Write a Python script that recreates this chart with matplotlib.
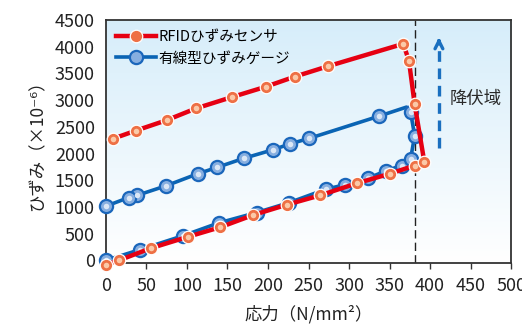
import numpy as np
import matplotlib
matplotlib.use("Agg")
import matplotlib.pyplot as plt

plt.rcParams['font.family'] = ['Noto Sans CJK JP', 'DejaVu Sans']

# RFID strain sensor (load up, yield, unload)
rfid_x = [0, 16, 56, 101, 141, 182, 224, 264, 310, 350, 381, 393, 381, 374, 367, 274, 233, 197, 156, 111, 75, 37, 9]
rfid_y = [-80, 0, 230, 440, 620, 850, 1045, 1215, 1445, 1620, 1775, 1840, 2925, 3735, 4055, 3635, 3440, 3250, 3060, 2845, 2625, 2430, 2280]

# wired strain gauge
gauge_x = [0, 42, 95, 139, 186, 226, 272, 295, 324, 346, 365, 376, 381, 376, 371, 337, 251, 227, 206, 170, 137, 113, 74, 38, 28, 0]
gauge_y = [0, 200, 460, 700, 895, 1080, 1335, 1415, 1540, 1680, 1775, 1895, 2335, 2775, 2870, 2700, 2285, 2180, 2070, 1910, 1740, 1620, 1395, 1215, 1175, 1015]
gauge_marks = [i for i in range(len(gauge_x)) if i != 14]

yield_x = 381
xticks = list(range(0, 501, 50))
yticks = list(range(0, 4501, 500))

fig = plt.figure(figsize=(5.22, 3.29), dpi=100)
ax = fig.add_axes([0.203, 0.2006, 0.776, 0.7384])

# light blue gradient background
top = np.array([0.84, 0.93, 0.98])
bot = np.array([1.0, 1.0, 1.0])
t = np.linspace(0, 1, 200).reshape(-1, 1, 1)
grad = top * (1 - t) + bot * t
ax.imshow(grad, extent=[0, 500, -50, 4500], aspect='auto', zorder=0, interpolation='bilinear')

red_line = '#e60012'
red_mark = '#ee7045'
blue_line = '#0a64b4'
blue_mark = '#86aee0'

ax.plot(gauge_x, gauge_y, color=blue_line, lw=2.6, zorder=3, clip_on=False,
        marker='o', markevery=gauge_marks, ms=9.5, mfc=blue_mark, mec='#1a66bb', mew=1.6,
        label='有線型ひずみゲージ')
ax.plot([gauge_x[i] for i in gauge_marks], [gauge_y[i] for i in gauge_marks], 'o', ms=4,
        color='#dbe7f6', mew=0, zorder=3.5, clip_on=False)

ax.plot(rfid_x, rfid_y, color=red_line, lw=3.2, zorder=4, clip_on=False,
        marker='o', ms=9, mfc=red_mark, mec='white', mew=0.9, label='RFIDひずみセンサ')
ax.plot(rfid_x, rfid_y, 'o', ms=4, color='#fbc9a8', mew=0, zorder=4.5, clip_on=False)

ax.axvline(yield_x, color='#222222', lw=1, dashes=(6, 3), zorder=2)

# dashed arrow for yield region
ax.plot([411, 411], [2100, 4050], color='#1a6fbf', lw=2.4, dashes=(3.2, 2.0), zorder=2)
ax.annotate('', xy=(411, 4230), xytext=(411, 4000),
            arrowprops=dict(arrowstyle='->', color='#1a6fbf', lw=2.4, mutation_scale=14))
ax.text(456, 3030, '降伏域', fontsize=12.5, ha='center', va='center', color='#2a2a2a')

ax.set_xlim(0, 500)
ax.set_ylim(-50, 4500)
ax.set_xticks(xticks)
ax.set_yticks(yticks)
ax.tick_params(axis='x', direction='out', length=4, width=1, color='#333333', pad=6,
               labelsize=13, labelcolor='#222222')
ax.tick_params(axis='y', length=0, pad=8, labelsize=13, labelcolor='#222222')
for s in ax.spines.values():
    s.set_color('#333333')
    s.set_linewidth(1.3)

ax.set_xlabel('応力（N/mm²）', fontsize=12.5, color='#222222', labelpad=7)
ax.set_ylabel('ひずみ（×10⁻⁶）', fontsize=12.5, color='#222222', labelpad=6)

h, l = ax.get_legend_handles_labels()
ax.legend(h[::-1], l[::-1], loc='upper left', frameon=False, fontsize=10.5,
          handlelength=2.7, handletextpad=0.2, labelspacing=0.5,
          borderaxespad=0.3, bbox_to_anchor=(0.0, 1.0))

fig.savefig('out.png', dpi=100)
